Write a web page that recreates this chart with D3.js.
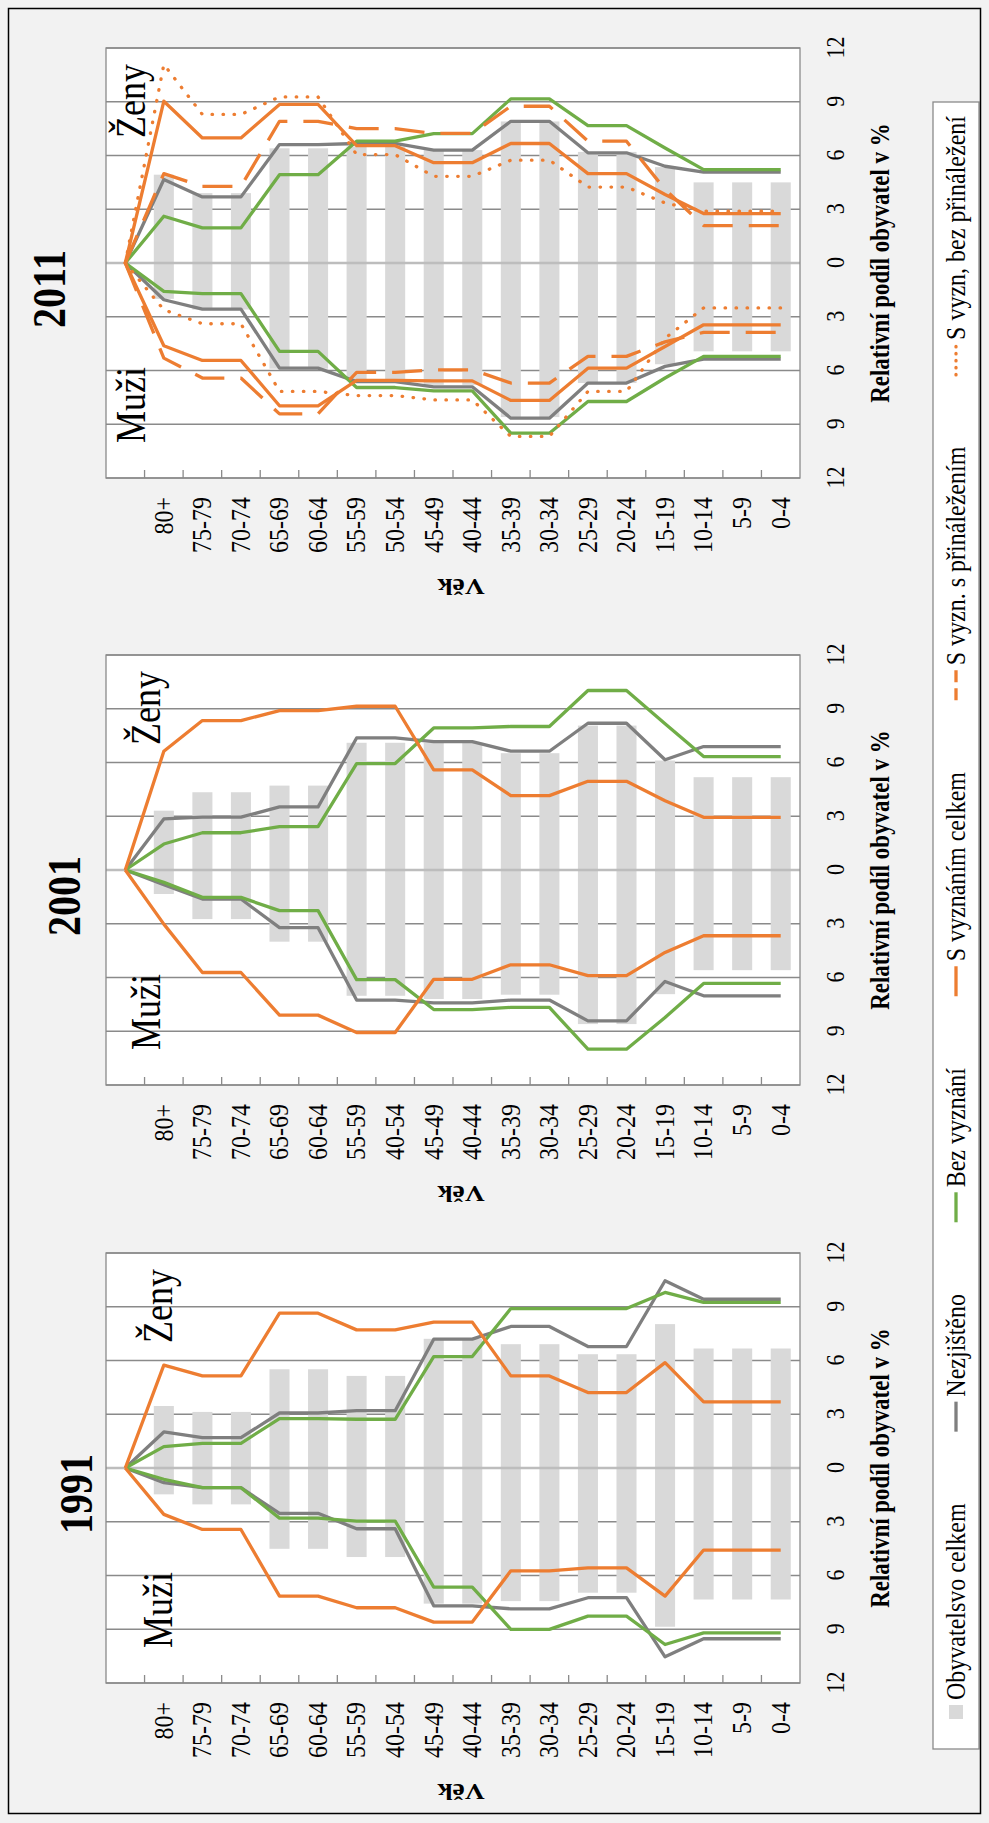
<!DOCTYPE html>
<html><head><meta charset="utf-8">
<script src="https://cdn.jsdelivr.net/npm/d3@7"></script>
<style>
body{margin:0;background:#f2f2f2}
svg{display:block}
text{font-family:"Liberation Serif","Times New Roman",serif;fill:#000}
.st{transform-box:fill-box;transform-origin:center;transform:scale(1,1.15)}
.stv{transform-box:fill-box;transform-origin:center;transform:scale(1.15,1)}
</style>
</head><body>
<svg id="c" width="989" height="1823"></svg>
<script>
// ---------- DATA ----------
const years = ["1991", "2001", "2011"];
const ageLabels1991 = ["", "80+", "75-79", "70-74", "65-69", "60-64", "55-59", "40-54", "45-49", "40-44", "35-39", "30-34", "25-29", "20-24", "15-19", "10-14", "5-9", "0-4"];
const ageLabels2001 = ["", "80+", "75-79", "70-74", "65-69", "60-64", "55-59", "40-54", "45-49", "40-44", "35-39", "30-34", "25-29", "20-24", "15-19", "10-14", "5-9", "0-4"];
const ageLabels2011 = ["", "80+", "75-79", "70-74", "65-69", "60-64", "55-59", "50-54", "45-49", "40-44", "35-39", "30-34", "25-29", "20-24", "15-19", "10-14", "5-9", "0-4"];
const valueTicks = [-12, -9, -6, -3, 0, 3, 6, 9, 12];

// Obyvatelstvo celkem (bars), 80+ ... 0-4
const popW1991 = [3.46, 3.13, 3.13, 5.51, 5.51, 5.14, 5.14, 7.21, 7.21, 6.91, 6.91, 6.35, 6.35, 8.03, 6.67, 6.67, 6.67];
const popM1991 = [1.47, 2.03, 2.03, 4.51, 4.51, 4.97, 4.97, 7.57, 7.57, 7.43, 7.43, 6.96, 6.96, 8.86, 7.34, 7.34, 7.34];
const popW2001 = [3.31, 4.34, 4.34, 4.71, 4.71, 7.10, 7.10, 7.10, 7.10, 6.52, 6.52, 8.06, 8.06, 6.11, 5.18, 5.18, 5.18];
const popM2001 = [1.34, 2.74, 2.74, 4.00, 4.00, 7.02, 7.02, 7.20, 7.20, 6.96, 6.96, 8.60, 8.60, 6.93, 5.59, 5.59, 5.59];
const popW2011 = [4.93, 3.90, 3.90, 6.40, 6.40, 6.50, 6.50, 6.30, 6.30, 7.90, 7.90, 6.20, 6.20, 5.35, 4.50, 4.50, 4.50];
const popM2011 = [2.00, 2.60, 2.60, 5.90, 5.90, 6.60, 6.60, 6.80, 6.80, 8.60, 8.60, 6.70, 6.70, 5.65, 4.93, 4.93, 4.93];

// Lines: first value = empty category above 80+
// Nezjištěno
const unkW1991 = [0, 2.01, 1.69, 1.69, 3.07, 3.07, 3.20, 3.20, 7.19, 7.19, 7.90, 7.90, 6.78, 6.78, 10.45, 9.42, 9.42, 9.42];
const unkM1991 = [0, 0.82, 1.10, 1.10, 2.53, 2.53, 3.39, 3.39, 7.69, 7.69, 7.86, 7.86, 7.24, 7.24, 10.54, 9.53, 9.53, 9.53];
const unkW2001 = [0, 2.85, 2.95, 2.95, 3.52, 3.52, 7.37, 7.37, 7.16, 7.16, 6.63, 6.63, 8.19, 8.19, 6.15, 6.89, 6.89, 6.89];
const unkM2001 = [0, 0.82, 1.62, 1.62, 3.22, 3.22, 7.26, 7.26, 7.42, 7.42, 7.26, 7.26, 8.42, 8.42, 6.22, 7.02, 7.02, 7.02];
const unkW2011 = [0, 4.66, 3.69, 3.69, 6.61, 6.61, 6.67, 6.67, 6.30, 6.30, 7.91, 7.91, 6.15, 6.15, 5.40, 5.07, 5.07, 5.07];
const unkM2011 = [0, 2.05, 2.57, 2.57, 5.87, 5.87, 6.62, 6.62, 6.91, 6.91, 8.66, 8.66, 6.70, 6.70, 5.77, 5.36, 5.36, 5.36];
// Bez vyznání
const noneW1991 = [0, 1.19, 1.38, 1.38, 2.76, 2.76, 2.72, 2.72, 6.22, 6.22, 8.90, 8.90, 8.90, 8.90, 9.80, 9.24, 9.24, 9.24];
const noneM1991 = [0, 0.63, 1.10, 1.10, 2.80, 2.80, 2.96, 2.96, 6.65, 6.65, 9.01, 9.01, 8.27, 8.27, 9.85, 9.20, 9.20, 9.20];
const noneW2001 = [0, 1.45, 2.08, 2.08, 2.42, 2.42, 5.94, 5.94, 7.93, 7.93, 8.01, 8.01, 10.02, 10.02, 8.16, 6.33, 6.33, 6.33];
const noneM2001 = [0, 0.69, 1.53, 1.53, 2.27, 2.27, 6.12, 6.12, 7.79, 7.79, 7.67, 7.67, 10.00, 10.00, 8.23, 6.33, 6.33, 6.33];
const noneW2011 = [0, 2.61, 1.96, 1.96, 4.93, 4.93, 6.80, 6.80, 7.22, 7.22, 9.16, 9.16, 7.67, 7.67, 6.42, 5.21, 5.21, 5.21];
const noneM2011 = [0, 1.58, 1.71, 1.71, 4.93, 4.93, 6.95, 6.95, 7.14, 7.14, 9.50, 9.50, 7.73, 7.73, 6.42, 5.21, 5.21, 5.21];
// S vyznáním celkem
const relW1991 = [0, 5.74, 5.14, 5.14, 8.64, 8.64, 7.71, 7.71, 8.14, 8.14, 5.14, 5.14, 4.21, 4.21, 5.88, 3.69, 3.69, 3.69];
const relM1991 = [0, 2.59, 3.43, 3.43, 7.15, 7.15, 7.80, 7.80, 8.60, 8.60, 5.74, 5.74, 5.57, 5.57, 7.15, 4.58, 4.58, 4.58];
const relW2001 = [0, 6.63, 8.34, 8.34, 8.90, 8.90, 9.14, 9.14, 5.59, 5.59, 4.15, 4.15, 4.95, 4.95, 3.87, 2.94, 2.94, 2.94];
const relM2001 = [0, 3.02, 5.72, 5.72, 8.10, 8.10, 9.07, 9.07, 6.10, 6.10, 5.29, 5.29, 5.90, 5.90, 4.60, 3.67, 3.67, 3.67];
const relW2011 = [0, 9.03, 6.98, 6.98, 8.85, 8.85, 6.55, 6.55, 5.60, 5.60, 6.67, 6.67, 4.99, 4.99, 3.82, 2.76, 2.76, 2.76];
const relM2011 = [0, 4.62, 5.44, 5.44, 7.97, 7.97, 6.55, 6.55, 6.58, 6.58, 7.67, 7.67, 5.87, 5.87, 4.66, 3.45, 3.45, 3.45];
// S vyzn. s přináležením (2011)
const affW2011 = [0, 4.99, 4.28, 4.28, 7.91, 7.91, 7.50, 7.50, 7.23, 7.23, 8.75, 8.75, 6.80, 6.80, 4.10, 2.09, 2.09, 2.09];
const affM2011 = [0, 5.31, 6.42, 6.42, 8.42, 8.42, 6.10, 6.10, 5.96, 5.96, 6.70, 6.70, 5.21, 5.21, 4.40, 3.87, 3.87, 3.87];
// S vyzn, bez přináležení (2011)
const nonaffW2011 = [0, 11.08, 8.29, 8.29, 9.27, 9.27, 6.05, 6.05, 4.84, 4.84, 5.74, 5.74, 4.24, 4.24, 3.35, 2.89, 2.89, 2.89];
const nonaffM2011 = [0, 2.61, 3.39, 3.39, 7.17, 7.17, 7.40, 7.40, 7.64, 7.64, 9.68, 9.68, 7.17, 7.17, 4.20, 2.51, 2.51, 2.51];

const legendLabels = ["Obyvatelsvo celkem", "Nezjištěno", "Bez vyznání", "S vyznáním celkem", "S vyzn. s přináležením", "S vyzn, bez přináležení"];

// ---------- STYLE / LAYOUT ----------
const W = 989, H = 1823;
const styles = {
  unk:    {color: "#7f7f7f"},
  none:   {color: "#70ad47"},
  rel:    {color: "#ed7d31"},
  aff:    {color: "#ed7d31", dash: "30,16", keyDash: "12,6"},
  nonaff: {color: "#ed7d31", dash: "0.5,10.5", keyDash: "0.5,6.5", cap: "round"}
};
const panelX0 = [140, 738, 1345];       // plot left (men side) in unrotated coords
const PW = 430, PY0 = 106, PY1 = 800;   // plot width, top, bottom
const sexLabelY = [170, 158, 143];
const titleY = [90, 78, 63];
const titleDX = [-26, -26, -26];

const panels = [
  {year: years[0], ages: ageLabels1991, popW: popW1991, popM: popM1991,
   series: [["unk", unkW1991, unkM1991], ["none", noneW1991, noneM1991], ["rel", relW1991, relM1991]]},
  {year: years[1], ages: ageLabels2001, popW: popW2001, popM: popM2001,
   series: [["unk", unkW2001, unkM2001], ["none", noneW2001, noneM2001], ["rel", relW2001, relM2001]]},
  {year: years[2], ages: ageLabels2011, popW: popW2011, popM: popM2011,
   series: [["unk", unkW2011, unkM2011], ["none", noneW2011, noneM2011], ["rel", relW2011, relM2011],
            ["aff", affW2011, affM2011], ["nonaff", nonaffW2011, nonaffM2011]]}
];

const svg = d3.select("#c");
svg.append("rect").attr("width", W).attr("height", H).attr("fill", "#f2f2f2");
// whole figure is landscape, rotated -90deg
const g = svg.append("g").attr("transform", `translate(0,${H}) rotate(-90)`);

panels.forEach((p, pi) => {
  const X0 = panelX0[pi];
  const x = d3.scaleLinear().domain([-12, 12]).range([X0, X0 + PW]);
  const y = d3.scaleBand().domain(d3.range(p.ages.length)).range([PY0, PY1]);
  const bw = y.bandwidth();
  const pg = g.append("g");

  pg.append("rect").attr("x", X0).attr("y", PY0).attr("width", PW).attr("height", PY1 - PY0).attr("fill", "#fff");

  pg.selectAll("line.grid").data(valueTicks.filter(t => t !== 0)).join("line")
    .attr("x1", d => x(d)).attr("x2", d => x(d)).attr("y1", PY0).attr("y2", PY1)
    .attr("stroke", "#8a8a8a").attr("stroke-width", 1.3);

  pg.selectAll("rect.bar").data(p.popW).join("rect")
    .attr("x", (d, k) => x(-p.popM[k]))
    .attr("width", (d, k) => x(d) - x(-p.popM[k]))
    .attr("y", (d, k) => y(k + 1) + bw * 0.24)
    .attr("height", bw * 0.52)
    .attr("fill", "#d9d9d9");

  pg.append("line").attr("x1", x(0)).attr("x2", x(0)).attr("y1", PY0).attr("y2", PY1)
    .attr("stroke", "#bdbdbd").attr("stroke-width", 2.6);

  p.series.forEach(([key, wv, mv]) => {
    const st = styles[key];
    [wv, mv.map(v => -v)].forEach(vals => {
      const line = d3.line().x(v => x(v)).y((v, k) => y(k) + bw / 2);
      pg.append("path").attr("d", line(vals)).attr("fill", "none")
        .attr("stroke", st.color).attr("stroke-width", 3.3)
        .attr("stroke-linejoin", "round")
        .attr("stroke-linecap", st.cap || "butt")
        .attr("stroke-dasharray", st.dash || null);
    });
  });

  pg.append("rect").attr("x", X0).attr("y", PY0).attr("width", PW).attr("height", PY1 - PY0)
    .attr("fill", "none").attr("stroke", "#8a8a8a").attr("stroke-width", 1.3);

  pg.selectAll("line.tick").data(d3.range(1, p.ages.length)).join("line")
    .attr("x1", X0).attr("x2", X0 + 8).attr("y1", k => y(k)).attr("y2", k => y(k))
    .attr("stroke", "#8a8a8a").attr("stroke-width", 1.3);

  const ca = pg.append("g").attr("transform", `translate(${X0},0)`)
    .call(d3.axisLeft(y).tickSize(0).tickPadding(19).tickFormat(k => p.ages[k]));
  ca.select(".domain").remove();
  ca.selectAll("text").attr("class", "st").style("font-size", "24px")
    .style("font-family", '"Liberation Serif", serif');

  const va = pg.append("g").attr("transform", `translate(0,${PY1})`)
    .call(d3.axisBottom(x).tickValues(valueTicks).tickSize(0).tickPadding(27).tickFormat(d => Math.abs(d)));
  va.select(".domain").remove();
  va.selectAll("text").attr("class", "st").style("font-size", "22px")
    .style("font-family", '"Liberation Serif", serif');

  pg.append("text").attr("class", "st").attr("x", X0 + PW / 2).attr("y", 888)
    .attr("text-anchor", "middle").style("font-size", "23px").style("font-weight", "bold")
    .text("Relativní podíl obyvatel v %");
  pg.append("g").attr("transform", `translate(${X0 - 109},${(PY0 + PY1) / 2 + 8}) rotate(-90)`)
    .append("text").attr("class", "stv").attr("text-anchor", "middle").attr("dy", "0.35em")
    .style("font-size", "24px").style("font-weight", "bold").text("Věk");

  pg.append("text").attr("class", "st").attr("x", X0 + 35).attr("y", sexLabelY[pi])
    .style("font-size", "36px").text("Muži");
  pg.append("text").attr("class", "st").attr("x", X0 + 340).attr("y", sexLabelY[pi])
    .style("font-size", "36px").text("Ženy");

  pg.append("text").attr("class", "st").attr("x", X0 + PW / 2 + titleDX[pi]).attr("y", titleY[pi])
    .attr("text-anchor", "middle").style("font-size", "40px").style("font-weight", "bold").text(p.year);
});

// ---------- LEGEND ----------
const LX0 = 74, LX1 = 1721, LY0 = 933, LY1 = 979, LYC = (LY0 + LY1) / 2;
const lg = g.append("g");
lg.append("rect").attr("x", LX0).attr("y", LY0).attr("width", LX1 - LX0).attr("height", LY1 - LY0)
  .attr("fill", "#fff").attr("stroke", "#8a8a8a").attr("stroke-width", 1.3);
const legendKeys = ["bar", "unk", "none", "rel", "aff", "nonaff"];
const symLen = 30, symGap = 5, margin = 14;
const items = legendKeys.map((k, i) => {
  const ig = lg.append("g");
  const t = ig.append("text").attr("class", "st").attr("y", LYC + 8).style("font-size", "24px").text(legendLabels[i]);
  return {k, ig, t, w: t.node().getComputedTextLength()};
});
const total = d3.sum(items, d => symLen + symGap + d.w);
const gap = (LX1 - LX0 - 2 * margin - total) / (items.length - 1);
let cx = LX0 + margin;
items.forEach(d => {
  if (d.k === "bar") {
    d.ig.append("rect").attr("x", cx + symLen - 14).attr("y", LYC - 7).attr("width", 14).attr("height", 14).attr("fill", "#d9d9d9");
  } else {
    const st = styles[d.k];
    d.ig.append("line").attr("x1", cx).attr("x2", cx + symLen).attr("y1", LYC).attr("y2", LYC)
      .attr("stroke", st.color).attr("stroke-width", 3.3)
      .attr("stroke-linecap", st.cap || "butt")
      .attr("stroke-dasharray", st.keyDash || null);
  }
  d.t.attr("x", cx + symLen + symGap);
  cx += symLen + symGap + d.w + gap;
});

svg.append("rect").attr("x", 8.5).attr("y", 8.5).attr("width", 972).attr("height", 1805)
  .attr("fill", "none").attr("stroke", "#000").attr("stroke-width", 1.5);
</script>
</body></html>
